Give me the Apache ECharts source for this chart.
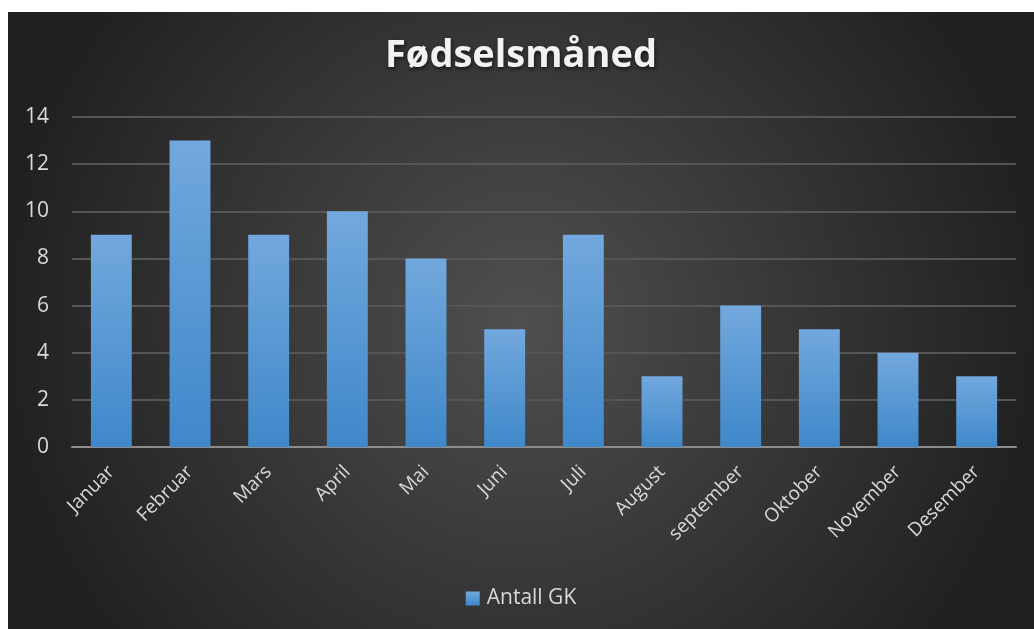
<!DOCTYPE html>
<html>
<head>
<meta charset="utf-8">
<script src="https://cdn.jsdelivr.net/npm/echarts@6/dist/echarts.min.js"></script>
<style>
  html, body { margin: 0; padding: 0; background: #ffffff; }
  #chart { position: absolute; left: 8px; top: 12px; width: 1026px; height: 617px; }
</style>
</head>
<body>
<div id="chart"></div>
<script>
const months = ["Januar", "Februar", "Mars", "April", "Mai", "Juni", "Juli", "August", "september", "Oktober", "November", "Desember"];
const antallGK = [9, 13, 9, 10, 8, 5, 9, 3, 6, 5, 4, 3];
const seriesName = "Antall GK";

let myChart = echarts.init(document.getElementById("chart"));
let option = {
  backgroundColor: new echarts.graphic.RadialGradient(0.5, 0.5, 0.85, [
    { offset: 0, color: "#4f4f4f" },
    { offset: 1, color: "#202020" },
  ]),
  textStyle: { fontFamily: "Open Sans" },
  title: {
    text: "Fødselsmåned",
    left: "center",
    top: 20,
    textStyle: {
      color: "#f2f2f2",
      fontSize: 38,
      fontWeight: "bold",
      fontFamily: "Open Sans",
      textShadowColor: "rgba(0,0,0,0.6)",
      textShadowBlur: 4,
      textShadowOffsetX: 1,
      textShadowOffsetY: 2,
    },
  },
  legend: {
    bottom: 15,
    left: "center",
    itemWidth: 14,
    itemHeight: 14,
    itemGap: 8,
    icon: "rect",
    textStyle: { color: "#d9d9d9", fontSize: 21, fontFamily: "Open Sans", padding: [0, 0, 0, 2] },
    data: [seriesName],
  },
  grid: {
    left: 64,
    right: 18,
    top: 105,
    bottom: 182,
    containLabel: false,
  },
  xAxis: {
    type: "category",
    data: months,
    axisLine: { lineStyle: { color: "#8c8c8c", width: 2 } },
    axisTick: { show: false },
    axisLabel: {
      color: "#d9d9d9",
      fontSize: 19,
      rotate: 45,
      margin: 22,
      interval: 0,
    },
  },
  yAxis: {
    type: "value",
    min: 0,
    max: 14,
    interval: 2,
    axisLine: { show: false },
    axisTick: { show: false },
    axisLabel: { color: "#d9d9d9", fontSize: 21, margin: 23 },
    splitLine: { lineStyle: { color: "#555555", width: 2 } },
  },
  series: [
    {
      name: seriesName,
      type: "bar",
      data: antallGK,
      barWidth: "52%",
      itemStyle: {
        color: new echarts.graphic.LinearGradient(0, 0, 0, 1, [
          { offset: 0, color: "#72a8dd" },
          { offset: 1, color: "#3f88ca" },
        ]),
        shadowColor: "rgba(0,0,0,0.55)",
        shadowBlur: 8,
        shadowOffsetX: 2,
        shadowOffsetY: 2,
      },
    },
  ],
};
myChart.setOption(option);
</script>
</body>
</html>
